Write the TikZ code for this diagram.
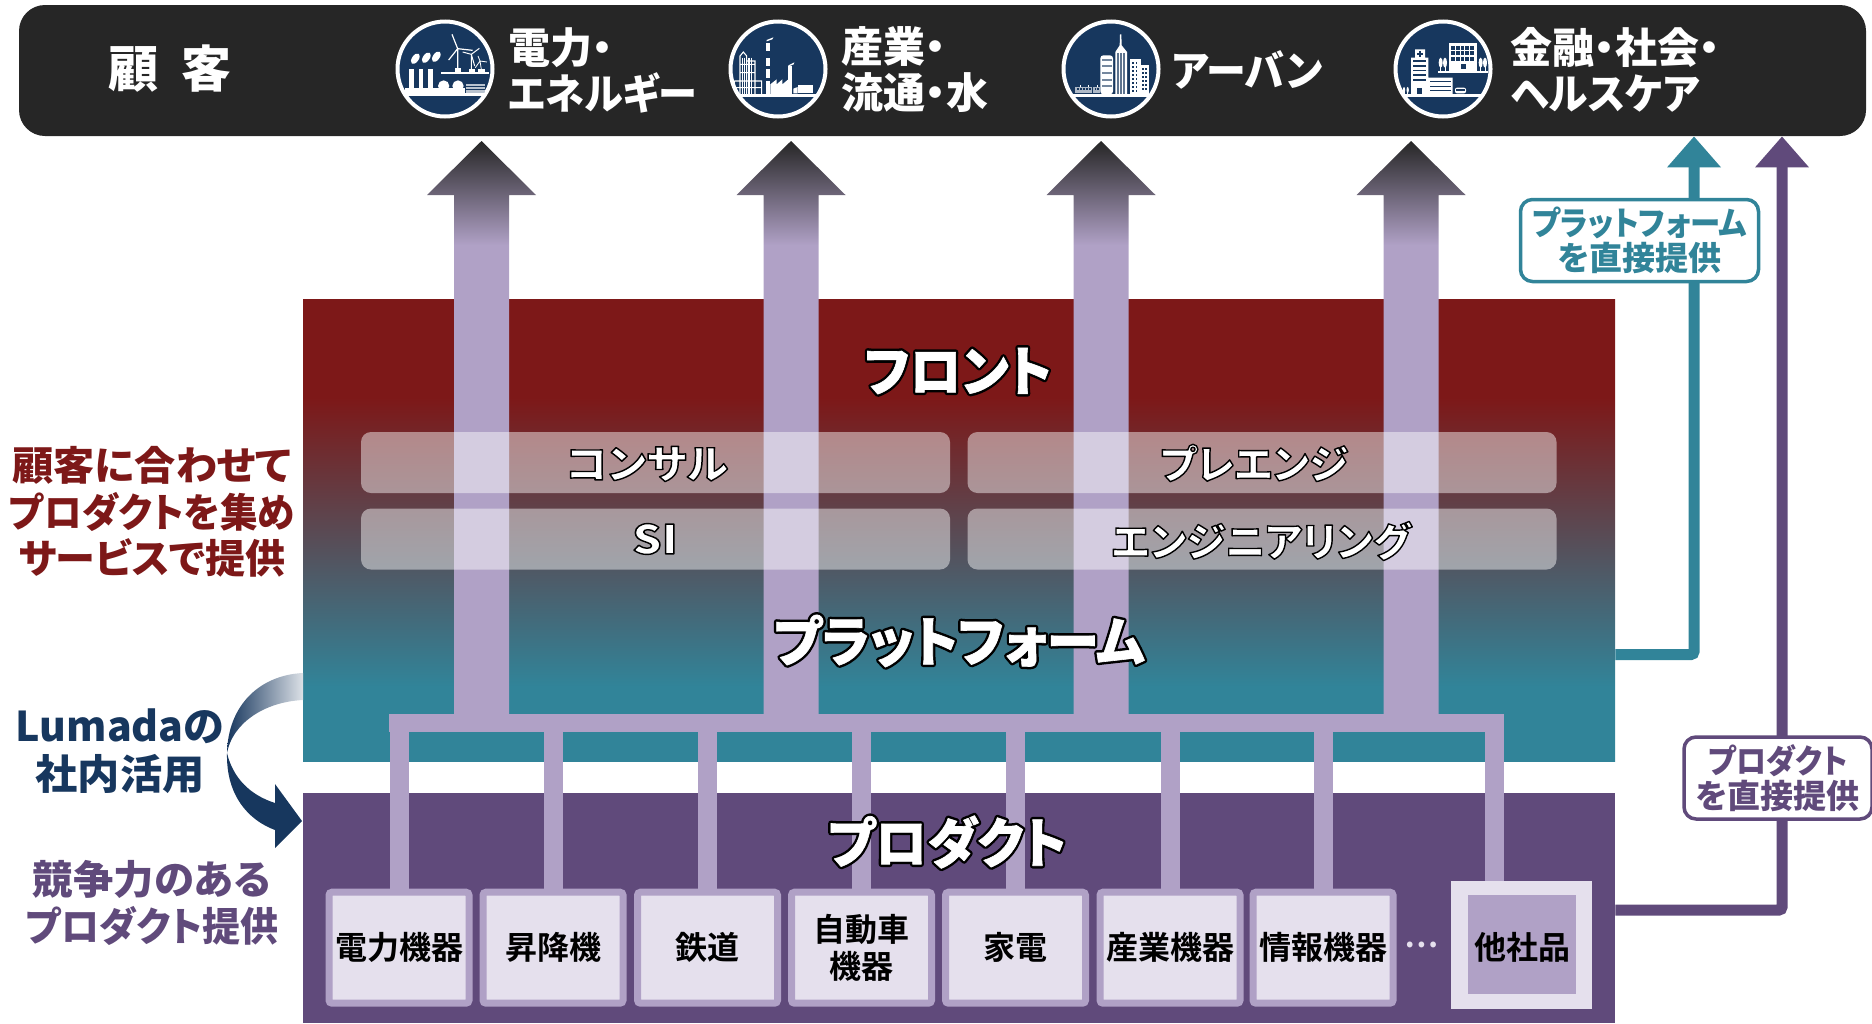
\documentclass[tikz,border=0pt]{standalone}
\usepackage{fontspec}
\usetikzlibrary{arrows.meta}
\setmainfont{Noto Sans CJK JP}[BoldFont={Noto Sans CJK JP Bold},RawFeature=+palt]
\newfontfamily\heavyfont{Noto Sans CJK JP Black}[RawFeature=+palt]
\definecolor{bardark}{HTML}{262626}
\definecolor{navyblue}{HTML}{17375E}
\definecolor{lilac}{HTML}{B0A1C6}
\definecolor{palelilac}{HTML}{E5E0ED}
\definecolor{bandred}{HTML}{7D1818}
\definecolor{bandteal}{HTML}{318499}
\definecolor{prodpurple}{HTML}{604A7B}
\pgfdeclareverticalshading{bandfade}{100bp}{color(0bp)=(bandteal); color(33.1bp)=(bandteal); color(64.4bp)=(bandred); color(100bp)=(bandred)}
\pgfdeclareverticalshading{arrowfade}{100bp}{color(0bp)=(lilac); color(65.9bp)=(lilac); color(75bp)=(bardark); color(100bp)=(bardark)}
\newcommand{\pxfont}[2]{\fontsize{#1}{#2}\selectfont\bfseries}
\newcommand{\heavy}[2]{\fontsize{#1}{#2}\selectfont\heavyfont}
\newcommand{\glowtext}[2]{\special{pdf:code 2 Tr #1 w 1 j 0 0 0 RG}#2\special{pdf:code 0 Tr 0 j}}
\newcommand{\fattext}[2]{\special{pdf:code 2 Tr #1 w 1 j}#2\special{pdf:code 0 Tr 0 j}}
\newcommand{\sq}[2]{\scalebox{#1}[1]{#2}}
\begin{document}
\begin{tikzpicture}[x=0.5pt,y=-0.5pt,
	bandbox/.style={inner sep=0pt,minimum width=656pt},
	softpill/.style={fill=white,fill opacity=0.46,rounded corners=5pt,minimum width=294.5pt,minimum height=30.5pt,inner sep=0pt},
	pilltext/.style={text=white,font=\heavy{20}{23}},
	bandtitle/.style={text=white,font=\heavy{27}{30}},
	bandhalo/.style={text=black,font=\heavy{27}{30}},
	prodbox/.style={draw=lilac,fill=palelilac,line width=3.5pt,rounded corners=1.5pt,minimum width=70pt,minimum height=55.5pt,inner sep=0pt,align=center,font=\pxfont{16}{18.5}},
	iconring/.style={circle,draw=white,fill=navyblue,line width=2pt,minimum size=47.5pt,inner sep=0pt},
	toplabel/.style={anchor=west,align=left,text=white,inner sep=0pt,font=\heavy{21}{23}},
	sidelabel/.style={align=center,inner sep=0pt,font=\heavy{20}{23.25}},
	givebox/.style={draw=#1,text=#1,fill=white,line width=1.75pt,rounded corners=6pt,align=center,inner sep=0pt,font=\heavy{16.5}{17.25}},
	dropline/.style={lilac,line width=9.5pt},
	givelink/.style={#1,line width=5.5pt,rounded corners=1.5pt,-{Triangle[length=15.5pt,width=26pt]}}]
	\useasboundingbox (0,0) rectangle (1872,1023);

	\node[bandbox,shade,shading=bandfade,minimum height=231pt] (band) at (959,530.5) {};
	\node[bandbox,fill=prodpurple,minimum height=115pt] (prodband) at (959,908) {};
	\node[fill=bardark,rounded corners=13pt,minimum width=923.5pt,minimum height=65.5pt,inner sep=0pt] (bar) at (942.5,70.5) {};

	\foreach \x in {481.5,791,1101,1411}
		\shade[shading=arrowfade] ({\x-27.5},714) -- ({\x-27.5},195) -- ({\x-54.5},195) -- (\x,141) -- ({\x+54.5},195) -- ({\x+27.5},195) -- ({\x+27.5},714) -- cycle;

	\node[softpill] (consul) at (655.5,462.5) {};
	\node[softpill] (preeng) at (1262,462.5) {};
	\node[softpill] (si) at (655.5,539) {};
	\node[softpill] (enginr) at (1262,539) {};
	\node[pilltext] (consultx) at (647,464) {\glowtext{0.7}{\sq{1.06}{コンサル}}};
	\node[pilltext] (preengtx) at (1254,463) {\glowtext{0.7}{プレエンジ}};
	\node[pilltext] (sitx) at (655,539) {\glowtext{0.7}{\sq{1.15}{SI}}};
	\node[pilltext] (enginrtx) at (1261,541) {\glowtext{0.7}{エンジニアリング}};

	\node[prodbox] (elec) at (399,947.7) {電力機器};
	\node[prodbox] (lift) at (553,947.7) {昇降機};
	\node[prodbox] (rail) at (707.5,947.7) {鉄道};
	\node[prodbox] (auto) at (861.5,947.7) {自動車\\機器};
	\node[prodbox] (home) at (1015.5,947.7) {家電};
	\node[prodbox] (indu) at (1170,947.7) {産業機器};
	\node[prodbox] (info) at (1323,947.7) {情報機器};
	\node[text=palelilac,font=\pxfont{15.5}{18.5},inner sep=0pt] (dots) at (1422,945) {…};
	\node[fill=palelilac,minimum width=70.5pt,minimum height=64pt,inner sep=0pt] (other) at (1521.5,945) {};
	\node[fill=lilac,minimum width=54pt,minimum height=49.5pt,inner sep=0pt] (otherin) at (1522,944.5) {};
	\node[font=\pxfont{16}{18.5},inner sep=0pt] (othertx) at (1522,947) {他社品};

	\coordinate (busa) at (389,723);
	\coordinate (busb) at (1504,723);
	\coordinate (otherdrop) at (1494,723);
	\draw[lilac,line width=9pt] (busa) -- (busb);
	\foreach \n in {elec,lift,rail,auto,home,indu,info}
		\draw[dropline] (\n.north) -- (\n.north |- busa);
	\draw[dropline] (other.north -| otherdrop) -- (otherdrop);

	\coordinate (pfport) at (1694,654.5);
	\coordinate (prport) at (1782,910);
	\draw[givelink=bandteal] (band.east |- pfport) -| (bar.south -| pfport);
	\draw[givelink=prodpurple] (prodband.east |- prport) -| (bar.south -| prport);
	\node[givebox=bandteal,minimum width=119pt,minimum height=41pt] (pfgive) at (1639.5,240.5) {\sq{0.92}{プラットフォーム}\\を直接提供};
	\node[givebox=prodpurple,minimum width=94pt,minimum height=41pt] (prgive) at (1778,778) {\sq{0.91}{プロダクト}\\を直接提供};

	\node[bandhalo] (fronthalo) at (958,371) {\glowtext{2.8}{\sq{0.95}{フロント}}};
	\node[bandhalo] (pfhalo) at (959,641) {\glowtext{2.8}{\sq{0.97}{プラットフォーム}}};
	\node[bandhalo] (prhalo) at (947,842) {\glowtext{2.8}{\sq{0.95}{プロダクト}}};
	\node[bandtitle] (fronttitle) at (fronthalo) {\fattext{0.3}{\sq{0.95}{フロント}}};
	\node[bandtitle] (pftitle) at (pfhalo) {\fattext{0.3}{\sq{0.97}{プラットフォーム}}};
	\node[bandtitle] (prtitle) at (prhalo) {\fattext{0.3}{\sq{0.95}{プロダクト}}};

	\node[text=white,font=\heavy{25}{28},inner sep=0pt] (custom) at (170,69) {顧~~客};
	\node[iconring] (ic1) at (445,69) {};
	\node[iconring] (ic2) at (778,69) {};
	\node[iconring] (ic3) at (1111,69) {};
	\node[iconring] (ic4) at (1443,69) {};
	\node[toplabel] (lb1) at (508,70) {電力・\\\sq{0.93}{エネルギー}};
	\node[toplabel] (lb2) at (841,70) {産業・\\流通・水};
	\node[toplabel] (lb3) at (1172,70) {\sq{0.95}{アーバン}};
	\node[toplabel] (lb4) at (1510,70) {金融・社会・\\\sq{0.945}{ヘルスケア}};

	\begin{scope}[shift={(392,16)},scale=0.3333]
		\clip (159,159) circle (139);
		\fill[white] (30,232) rectangle (290,241);
		\fill[white] (40,215) rectangle (220,232);
		\foreach \x in {52,80,108}
			\fill[white] (\x,160) rectangle ++(14,60);
		\foreach \x/\y in {70/128,103/125,133/122}
			\fill[white,rotate around={-35:(\x,\y)}] (\x,\y) ellipse (10 and 18);
		\fill[white] (155,210) circle (17);
		\fill[white] (198,210) circle (17);
		\fill[white] (148,168) rectangle (292,175);
		\fill[white] (188,155) rectangle (208,168);
		\fill[white] (230,158) rectangle (250,168);
		\fill[white] (258,160) rectangle (278,168);
		\draw[white,line width=0.6pt] (197,98) -- (197,158) (197,98) -- (180,55) (197,98) -- (242,103) (197,98) -- (170,132);
		\draw[white,line width=0.5pt] (238,115) -- (238,160) (238,115) -- (262,97) (238,115) -- (212,108) (238,115) -- (248,150);
		\draw[white,line width=0.4pt] (264,135) -- (268,160) (264,135) -- (258,120) (264,135) -- (285,138) (264,135) -- (250,155);
		\fill[white!70!navyblue] (222,205) rectangle (280,230);
		\foreach \y in {213,222}
			\draw[navyblue,line width=0.5pt] (222,\y) -- (280,\y);
	\end{scope}

	\begin{scope}[shift={(725,16)},scale=0.3333]
		\clip (159,159) circle (139);
		\fill[white] (20,235) rectangle (295,243);
		\foreach \y/\h in {80/25,125/25,160/25,195/40}
			\fill[white] (122,\y) rectangle ++(14,\h);
		\fill[white] (125,72) -- (145,64) -- (142,70) -- (125,76) -- cycle;
		\fill[white] (190,150) rectangle (200,235);
		\fill[white] (190,148) -- (208,139) -- (206,145) -- (190,152) -- cycle;
		\fill[white] (136,235) -- (136,205) -- (155,190) -- (155,205) -- (172,190) -- (172,205) -- (190,190) -- (190,235) -- cycle;
		\fill[white] (220,207) rectangle (265,232);
		\fill[white] (205,218) -- (218,213) -- (218,232) -- (205,232) -- cycle;
		\draw[white,line width=0.55pt] (45,235) -- (45,120) -- (55,108) -- (65,120) -- (65,235) (65,135) -- (90,135) -- (90,235) (90,195) -- (110,195) -- (110,235) (28,195) -- (45,195) (28,215) -- (110,215) (28,195) -- (28,235) (45,145) -- (90,145) (45,170) -- (90,170) (45,195) -- (110,195);
		\foreach \x in {52,58,72,80}
			\draw[white,line width=0.55pt] (\x,125) -- (\x,235);
	\end{scope}

	\begin{scope}[shift={(1058,16)},scale=0.3333]
		\clip (159,159) circle (139);
		\fill[white] (20,235) rectangle (295,243);
		\fill[white,rounded corners=1.5pt] (127,235) -- (127,118) -- (165,118) -- (165,235) -- cycle;
		\foreach \y in {128,148,168,188,208}
			\fill[navyblue!60!white] (133,\y) rectangle (162,{\y+6});
		\fill[white] (172,235) -- (172,108) -- (185,88) -- (186,55) -- (190,55) -- (191,88) -- (207,108) -- (207,235) -- cycle;
		\foreach \x in {178,187,196}
			\fill[navyblue!70!white] (\x,112) rectangle ({\x+4},233);
		\fill[white] (217,130) rectangle (248,235);
		\fill[white] (248,147) rectangle (272,235);
		\foreach \x in {223,233}
			\foreach \y in {138,150,...,222}
				\fill[navyblue] (\x,\y) rectangle ({\x+5},{\y+6});
		\foreach \x in {253,262}
			\foreach \y in {155,167,...,222}
				\fill[navyblue] (\x,\y) rectangle ({\x+4},{\y+6});
		\fill[navyblue!35!white] (52,213) rectangle (102,230);
		\fill[navyblue!35!white] (105,213) rectangle (126,230);
		\foreach \x in {57,66,75,84,93,110,118}
			\fill[navyblue] (\x,217) rectangle ({\x+5},{222});
		\draw[white,line width=0.4pt] (68,213) -- (68,206) (90,213) -- (90,206) (118,213) -- (118,206);
	\end{scope}

	\begin{scope}[shift={(1390,16)},scale=0.3333]
		\clip (159,159) circle (139);
		\fill[white] (20,235) rectangle (295,243);
		\fill[white] (143,165) rectangle (295,170);
		\fill[white] (177,80) rectangle (262,165);
		\foreach \x in {184,198,212,226,240}
			\foreach \y in {90,106,122}
				\fill[navyblue] (\x,\y) rectangle ({\x+11},{\y+12});
		\fill[navyblue] (212,143) rectangle (228,160);
		\fill[white] (63,235) -- (63,125) -- (75,125) -- (75,100) -- (105,100) -- (105,125) -- (115,125) -- (115,185) -- (188,185) -- (188,235) -- cycle;
		\fill[navyblue] (87,106) rectangle (93,122);
		\fill[navyblue] (82,111) rectangle (98,117);
		\foreach \y in {133,147,161,175,189}
			\fill[navyblue] (69,\y) rectangle (109,{\y+5});
		\foreach \y in {195,209,222}
			\fill[navyblue] (119,\y) rectangle (184,{\y+4});
		\fill[navyblue] (81,215) rectangle (97,235);
		\foreach \x in {152,165,272,285} {
			\fill[white] (\x,140) ellipse (6 and 15);
			\fill[white] (\x-1,150) rectangle (\x+1,165);
		}
		\foreach \x in {42,53} {
			\fill[white] (\x,222) ellipse (3.5 and 9);
			\fill[white] (\x-1,225) rectangle (\x+1,235);
		}
		\fill[white,rounded corners=1pt] (195,215) rectangle (228,232);
		\fill[navyblue] (199,219) rectangle (224,224);
	\end{scope}

	\node[sidelabel,text=bandred] (leftfront) at (152,512) {\sq{1.03}{顧客に合わせて}\\\sq{0.94}{プロダクトを集め}\\サービスで提供};
	\node[sidelabel,text=navyblue,font=\heavy{20.5}{24}] (leftlumada) at (120,751) {Lumadaの\\\sq{1.03}{社内活用}};
	\node[sidelabel,text=prodpurple] (leftprod) at (152,903) {\sq{1.01}{競争力のある}\\\sq{0.95}{プロダクト提供}};

	\shade[left color=navyblue,right color=navyblue!15!white] (303,673) .. controls (260,675) and (228,705) .. (227,753) .. controls (232,725) and (262,702) .. (303,700) -- cycle;
	\fill[navyblue] (227,753) .. controls (226,795) and (248,820) .. (275,830) -- (275,848) -- (302,821) -- (275,784) -- (275,803) .. controls (250,795) and (233,778) .. (227,753) -- cycle;
\end{tikzpicture}
\end{document}
